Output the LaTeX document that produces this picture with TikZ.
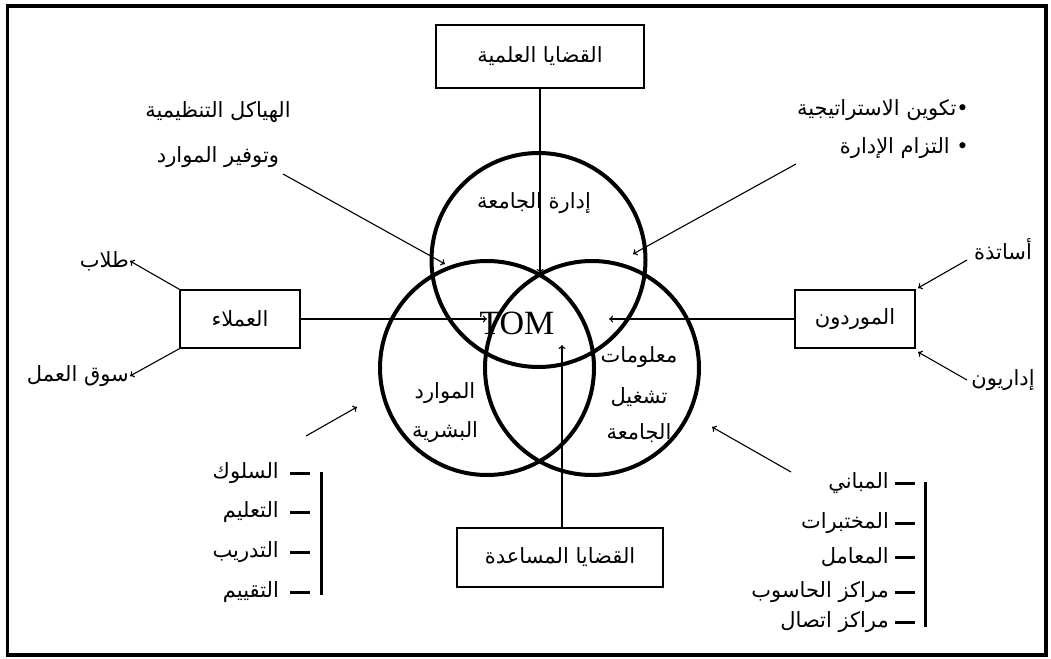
\documentclass[tikz,border=0pt]{standalone}
\usepackage{fontspec}
\usetikzlibrary{arrows.meta}
\TeXXeTstate=1
\newfontfamily\arabicfont[Script=Arabic]{DejaVu Sans}
\newfontfamily\latinserif{Liberation Serif}
\newcommand{\rtl}[1]{\beginR #1\endR}

\tikzset{
  lbl/.style={font=\arabicfont\fontsize{21}{24}\selectfont, inner sep=1pt},
  rbox/.style={draw, line width=1.5pt, inner sep=0pt,
               font=\arabicfont\fontsize{21}{24}\selectfont},
  venn/.style={circle, draw, line width=4pt, minimum size=214pt, inner sep=0pt},
  conn/.style={line width=1.1pt},
  arr/.style={conn, -{To[length=4pt,width=7pt]}},
  brace/.style={line width=3pt},
  tick/.style={line width=3pt}
}

\begin{document}
\begin{tikzpicture}[x=1pt,y=-1pt]
\useasboundingbox (0,0) rectangle (1051,658);

% outer frame
\draw[line width=3.5pt] (7.5,6) rectangle (1046,655);

% three overlapping circles
\node[venn] (cTop)   at (538.5,260) {};
\node[venn] (cLeft)  at (487,368) {};
\node[venn] (cRight) at (592,368) {};

% labels inside the circles
\node[lbl] (mgmt)  at (534,203) {\rtl{إدارة الجامعة}};
\node[font=\latinserif\fontsize{34}{36}\selectfont, inner sep=0pt] (tom) at (517,323) {TOM};
\node[lbl] (hr1) at (445,393) {\rtl{الموارد}};
\node[lbl] (hr2) at (445,432) {\rtl{البشرية}};
\node[lbl] (inf1) at (639,357) {\rtl{معلومات}};
\node[lbl] (inf2) at (639,397) {\rtl{تشغيل}};
\node[lbl] (inf3) at (639,433) {\rtl{الجامعة}};

% boxes
\node[rbox, minimum width=208pt, minimum height=63pt] (sci)   at (540,56.5)  {\rtl{القضايا العلمية}};
\node[rbox, minimum width=206pt, minimum height=59pt] (supp)  at (560,557.5) {\rtl{القضايا المساعدة}};
\node[rbox, minimum width=120pt, minimum height=58pt] (cust)  at (240,319)   {\rtl{العملاء}};
\node[rbox, minimum width=120pt, minimum height=58pt] (vend)  at (855,319)   {\rtl{الموردون}};

% free texts
\node[lbl] (org1) at (218,112) {\rtl{الهياكل التنظيمية}};
\node[lbl] (org2) at (218,157) {\rtl{وتوفير الموارد}};
\node[lbl, anchor=east] (strat) at (970,110) {\rtl{•تكوين الاستراتيجية}};
\node[lbl, anchor=east] (commit) at (970,148) {\rtl{• التزام الإدارة}};
\node[lbl, anchor=east] (stud)  at (130,261) {\rtl{طلاب}};
\node[lbl, anchor=east] (market) at (130,376) {\rtl{سوق العمل}};
\node[lbl] (prof)  at (1003,249) {\rtl{أساتذة}};
\node[lbl] (admin) at (1003,380) {\rtl{إداريون}};

% left list
\foreach \y/\t [count=\i] in {473/السلوك, 512/التعليم, 552/التدريب, 592/التقييم}{
  \node[lbl, anchor=east] (hrItem\i) at (280,\y) {\rtl{\t}};
  \draw[tick] (290,\y) -- (310,\y);
}
\draw[brace] (321,472) -- (321,595);

% right list
\foreach \y/\t [count=\i] in {483/المباني, 523/المختبرات, 557/المعامل, 592/مراكز الحاسوب, 622/مراكز اتصال}{
  \node[lbl, anchor=east] (facItem\i) at (890,\y) {\rtl{\t}};
  \draw[tick] (895,\y) -- (915,\y);
}
\draw[brace] (925,482) -- (925,627);

% arrow end points
\coordinate (tipTop)    at (540,273);
\coordinate (tipBottom) at (562,345);
\coordinate (tipLeft)   at (487,319);
\coordinate (tipRight)  at (609,319);
\coordinate (orgTail)   at (283,174);
\coordinate (orgTip)    at (445,264);
\coordinate (stratTail) at (796,164);
\coordinate (stratTip)  at (633,254);
\coordinate (hrTail)    at (306,436);
\coordinate (hrTip)     at (357,407);
\coordinate (facTail)   at (791,472);
\coordinate (facTip)    at (712,427);
\coordinate (profTail)  at (967,260);
\coordinate (profTip)   at (918,288);
\coordinate (adminTail) at (967,380);
\coordinate (adminTip)  at (918,352);

% connectors
\draw[arr] (sci.south) -- (tipTop);
\draw[arr] (tipBottom |- supp.north) -- (tipBottom);
\draw[arr] (cust.east) -- (tipLeft);
\draw[arr] (vend.west) -- (tipRight);
\draw[arr] (cust.north west) -- (stud.east);
\draw[arr] (cust.south west) -- (market.east);
\draw[arr] (profTail) -- (profTip);
\draw[arr] (adminTail) -- (adminTip);
\draw[arr] (orgTail) -- (orgTip);
\draw[arr] (stratTail) -- (stratTip);
\draw[arr] (hrTail) -- (hrTip);
\draw[arr] (facTail) -- (facTip);
\end{tikzpicture}
\end{document}
